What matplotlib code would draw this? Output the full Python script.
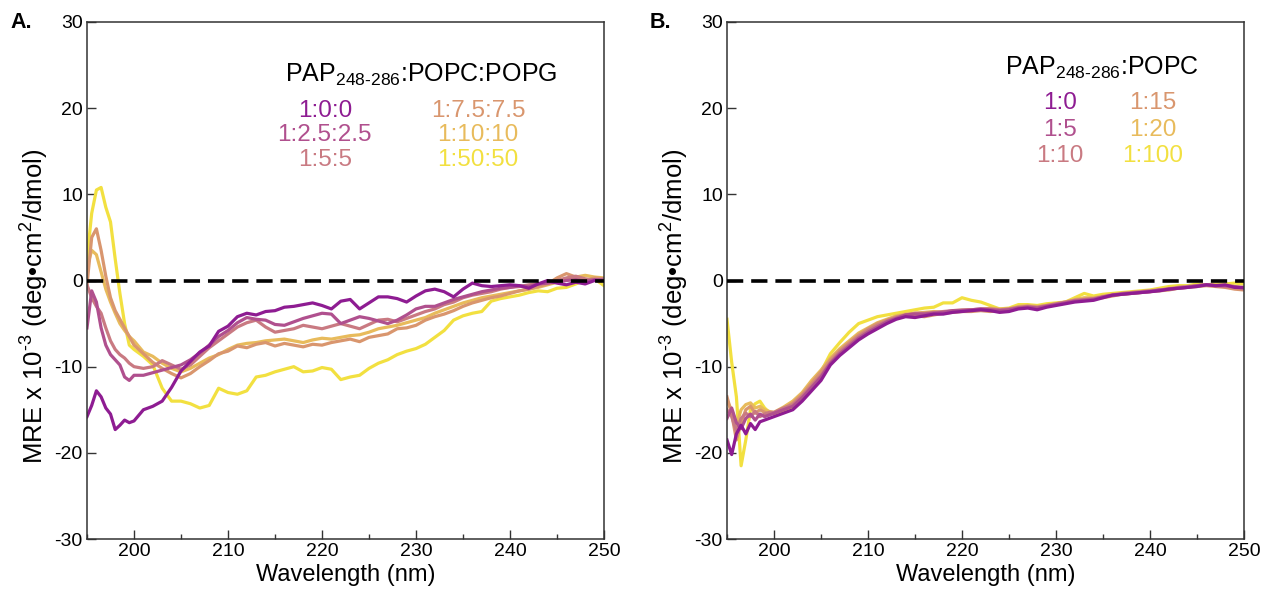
import numpy as np
import matplotlib
matplotlib.use("Agg")
import matplotlib.pyplot as plt
from matplotlib.ticker import MultipleLocator

plt.rcParams["font.family"] = ["Liberation Sans", "DejaVu Sans"]
plt.rcParams["mathtext.fontset"] = "custom"
plt.rcParams["mathtext.rm"] = "Liberation Sans"
plt.rcParams["axes.unicode_minus"] = False

# -------------------------------
# Data
# -------------------------------
wavelength = np.concatenate([np.arange(195, 200, 0.5), np.arange(200, 251, 1)])

colors = ["#8e1c92", "#b0508e", "#c97a82", "#d9966e", "#e8bb5c", "#f2e040"]

# Panel A: PAP248-286:POPC:POPG
labels_a = ["1:0:0", "1:2.5:2.5", "1:5:5", "1:7.5:7.5", "1:10:10", "1:50:50"]
a_0 = [-15.8, -14.5, -12.8, -13.5, -14.8, -15.5, -17.3, -16.8, -16.2, -16.5,
       -16.3, -15.0, -14.6, -14.0, -12.4, -10.5, -9.4, -8.3, -7.6, -5.9, -5.3, -4.2, -3.8, -4.0, -3.6, -3.5,
       -3.1, -3.0, -2.8, -2.6, -2.9, -3.3, -2.4, -2.2, -3.3, -2.6, -1.9, -1.9, -2.1, -2.5, -1.8, -1.2, -1.0,
       -1.3, -1.9, -1.0, -0.3, -0.6, -0.7, -0.6, -0.5, -0.6, -0.9, -0.4, 0.0, -0.3, -0.5, -0.2, -0.4, 0.0, 0.0]
a_1 = [-5.5, -1.2, -2.5, -5.5, -7.5, -8.6, -9.2, -9.8, -11.2, -11.6,
       -11.0, -11.0, -10.7, -10.4, -10.1, -9.8, -9.2, -8.4, -7.5, -6.5, -5.8, -4.9, -4.3, -4.5, -4.6, -5.1,
       -5.2, -4.8, -4.4, -4.1, -3.8, -3.9, -5.0, -4.6, -4.2, -4.4, -4.7, -5.0, -4.6, -4.0, -3.3, -3.0, -3.0,
       -2.6, -2.2, -1.9, -1.6, -1.3, -1.1, -0.9, -0.8, -0.6, -0.7, -0.4, -0.3, -0.2, 0.0, 0.1, -0.1, 0.1, 0.0]
a_2 = [-0.5, -2.0, -3.0, -3.8, -5.5, -7.0, -8.0, -8.6, -9.0, -9.6,
       -10.0, -10.2, -10.0, -9.3, -9.8, -10.3, -9.8, -8.8, -7.8, -7.0, -6.2, -5.4, -4.9, -4.6, -5.4, -6.0,
       -5.8, -5.6, -5.2, -5.4, -5.6, -5.3, -5.0, -5.3, -5.6, -5.1, -4.6, -4.5, -4.8, -4.4, -4.0, -3.6, -3.3,
       -2.8, -2.5, -2.0, -1.7, -1.5, -1.3, -1.0, -0.8, -0.7, -0.5, -0.4, -0.2, 0.0, 0.3, 0.5, 0.2, 0.0, 0.2]
a_3 = [-0.5, 5.0, 6.0, 3.5, 0.5, -2.0, -3.5, -4.5, -5.5, -6.5,
       -7.5, -8.5, -9.5, -10.2, -10.8, -11.3, -10.8, -10.0, -9.3, -8.5, -8.2, -7.6, -7.8, -7.4, -7.2, -7.6,
       -7.3, -7.5, -7.7, -7.4, -7.5, -7.2, -7.0, -6.8, -7.1, -6.6, -6.4, -6.2, -5.6, -5.5, -5.2, -4.6, -4.2,
       -3.9, -3.5, -3.0, -2.6, -2.3, -2.0, -1.8, -1.5, -1.2, -1.0, -0.7, -0.4, 0.3, 0.8, 0.4, 0.0, 0.3, 0.2]
a_4 = [1.5, 3.5, 3.0, 1.0, -1.0, -2.5, -3.8, -5.0, -5.8, -6.5,
       -7.0, -8.3, -8.8, -9.6, -10.2, -10.6, -10.2, -9.6, -9.0, -8.6, -8.0, -7.5, -7.3, -7.2, -7.0, -6.9,
       -6.8, -7.0, -7.2, -6.9, -6.7, -6.8, -6.6, -6.4, -6.3, -6.0, -5.6, -5.4, -5.2, -4.9, -4.6, -4.3, -3.8,
       -3.4, -3.0, -2.6, -2.3, -2.0, -1.8, -1.6, -1.4, -1.2, -1.0, -0.8, -0.5, -0.2, 0.1, 0.4, 0.6, 0.4, 0.3]
a_5 = [2.5, 7.8, 10.5, 10.8, 8.5, 6.8, 2.5, -1.5, -5.0, -7.5,
       -8.0, -8.8, -9.8, -12.5, -14.0, -14.0, -14.3, -14.8, -14.5, -12.5, -13.0, -13.2, -12.8, -11.2, -11.0,
       -10.6, -10.3, -10.0, -10.6, -10.5, -10.1, -10.3, -11.5, -11.2, -11.0, -10.2, -9.6, -9.2, -8.6, -8.2,
       -7.9, -7.4, -6.6, -5.8, -4.6, -4.1, -3.8, -3.6, -2.4, -2.1, -1.9, -1.7, -1.4, -1.2, -1.3, -0.9, -0.8,
       -0.4, 0.1, 0.2, -0.6]

# Panel B: PAP248-286:POPC
labels_b = ["1:0", "1:5", "1:10", "1:15", "1:20", "1:100"]
b_0 = [-18.5, -20.2, -17.8, -16.8, -17.8, -16.6, -17.3, -16.4, -16.2, -16.0,
       -15.8, -15.4, -15.0, -14.0, -12.8, -11.6, -9.8, -8.7, -7.8, -6.9, -6.2, -5.6, -5.0, -4.5, -4.2, -4.3,
       -4.1, -3.9, -3.9, -3.7, -3.6, -3.5, -3.4, -3.5, -3.7, -3.6, -3.3, -3.2, -3.4, -3.1, -2.9, -2.7, -2.5,
       -2.4, -2.3, -2.0, -1.7, -1.6, -1.5, -1.4, -1.3, -1.2, -1.0, -0.9, -0.8, -0.7, -0.5, -0.6, -0.5, -0.8, -0.8]
b_1 = [-16.0, -14.8, -16.5, -17.2, -16.0, -15.5, -16.2, -15.5, -15.8, -15.6,
       -15.4, -15.0, -14.6, -13.6, -12.4, -11.2, -9.6, -8.5, -7.6, -6.7, -6.0, -5.4, -4.8, -4.4, -4.0, -3.9,
       -3.9, -3.8, -3.7, -3.5, -3.5, -3.4, -3.3, -3.4, -3.5, -3.4, -3.2, -3.1, -3.2, -3.0, -2.8, -2.6, -2.4,
       -2.3, -2.2, -1.9, -1.7, -1.6, -1.5, -1.4, -1.3, -1.1, -1.0, -0.9, -0.8, -0.6, -0.5, -0.6, -0.6, -0.7, -0.9]
b_2 = [-15.0, -15.8, -17.5, -16.0, -15.4, -15.8, -15.2, -15.8, -15.5, -15.3,
       -15.3, -14.8, -14.4, -13.4, -12.2, -11.0, -9.5, -8.3, -7.4, -6.5, -5.8, -5.2, -4.7, -4.3, -4.0, -3.8,
       -3.8, -3.7, -3.6, -3.5, -3.4, -3.4, -3.3, -3.3, -3.4, -3.3, -3.1, -3.0, -3.1, -2.9, -2.7, -2.5, -2.3,
       -2.2, -2.1, -1.9, -1.7, -1.5, -1.4, -1.3, -1.2, -1.1, -1.0, -0.8, -0.7, -0.6, -0.5, -0.6, -0.7, -0.8, -1.0]
b_3 = [-13.5, -15.5, -18.5, -16.5, -15.0, -14.6, -15.4, -15.0, -15.3, -15.5,
       -15.4, -14.9, -14.2, -13.2, -11.9, -10.6, -9.2, -8.1, -7.2, -6.3, -5.6, -5.0, -4.6, -4.2, -4.0, -4.1,
       -4.2, -4.0, -3.8, -3.7, -3.6, -3.6, -3.5, -3.6, -3.5, -3.4, -3.2, -3.1, -3.2, -3.0, -2.8, -2.6, -2.3,
       -2.2, -2.1, -2.0, -1.8, -1.6, -1.5, -1.4, -1.3, -1.2, -1.1, -0.9, -0.8, -0.7, -0.6, -0.7, -0.8, -1.0, -1.1]
b_4 = [-14.0, -15.0, -16.8, -15.0, -14.4, -14.2, -14.8, -14.6, -15.0, -15.2,
       -15.3, -14.7, -14.0, -13.0, -11.6, -10.4, -9.0, -7.9, -7.0, -6.1, -5.5, -4.9, -4.5, -4.1, -3.9, -3.8,
       -3.7, -3.6, -3.7, -3.6, -3.5, -3.4, -3.4, -3.2, -3.3, -3.3, -3.0, -2.9, -3.0, -2.9, -2.7, -2.5, -2.2,
       -2.0, -2.0, -1.8, -1.6, -1.5, -1.4, -1.3, -1.2, -1.1, -0.9, -0.8, -0.7, -0.6, -0.5, -0.5, -0.6, -0.7, -0.8]
b_5 = [-4.5, -9.5, -13.5, -21.5, -18.5, -15.0, -14.3, -14.0, -14.8, -15.3,
       -15.5, -15.3, -14.6, -13.5, -12.0, -10.6, -8.5, -7.2, -6.0, -5.0, -4.6, -4.2, -4.0, -3.8, -3.6, -3.4,
       -3.2, -3.1, -2.6, -2.6, -2.0, -2.3, -2.5, -2.9, -3.3, -3.2, -2.8, -2.8, -2.9, -2.7, -2.6, -2.5, -2.0,
       -1.5, -1.8, -1.6, -1.5, -1.4, -1.3, -1.2, -1.1, -0.9, -0.7, -0.6, -0.6, -0.4, -0.5, -0.4, -0.4, -0.3, -0.4]

series_a = [a_0, a_1, a_2, a_3, a_4, a_5]
series_b = [b_0, b_1, b_2, b_3, b_4, b_5]

# -------------------------------
# Figure
# -------------------------------
fig = plt.figure(figsize=(12.62, 5.94), dpi=100)
ax_a = fig.add_axes([87 / 1262, 1 - 539 / 594, 517 / 1262, 517 / 594])
ax_b = fig.add_axes([727 / 1262, 1 - 539 / 594, 517 / 1262, 517 / 594])


def style_axis(ax):
    ax.set_xlim(195, 250)
    ax.set_ylim(-30, 30)
    ax.xaxis.set_major_locator(MultipleLocator(10))
    ax.xaxis.set_minor_locator(MultipleLocator(5))
    ax.yaxis.set_major_locator(MultipleLocator(10))
    ax.tick_params(which="both", direction="in", labelsize=14, width=1, color="#333333", pad=3)
    ax.tick_params(which="major", length=6.5)
    ax.tick_params(which="minor", length=3.5)
    for s in ax.spines.values():
        s.set_color("#333333")
        s.set_linewidth(1.1)
    ax.axhline(0, color="black", lw=2.6, ls=(0, (4.5, 2.2)), zorder=3)
    ax.set_xlabel("Wavelength (nm)", fontsize=17, labelpad=3)
    ax.set_ylabel(r"MRE x 10$^{\text{-3}}$ (deg•cm$^{\mathregular{2}}$/dmol)", fontsize=18.5)
    ax.yaxis.set_label_coords(-0.072, 0.45)


# draw lightest first so purple sits on top like the original
for ys, c in reversed(list(zip(series_a, colors))):
    ax_a.plot(wavelength, ys, color=c, lw=2.3, zorder=2)
for ys, c in reversed(list(zip(series_b, colors))):
    ax_b.plot(wavelength, ys, color=c, lw=2.3, zorder=2)

style_axis(ax_a)
style_axis(ax_b)

# legend-like text blocks
ax_a.text(216.1, 23.9, r"PAP$_{\mathregular{248\text{-}286}}$:POPC:POPG", fontsize=18, va="center", ha="left")
cols_a = [220.3, 236.6]
rows_a = [19.7, 16.9, 14.0]
for i, lab in enumerate(labels_a):
    ax_a.text(cols_a[i // 3], rows_a[i % 3], lab, color=colors[i], fontsize=17.5, ha="center", va="center")

ax_b.text(224.6, 24.7, r"PAP$_{\mathregular{248\text{-}286}}$:POPC", fontsize=18, va="center", ha="left")
cols_b = [230.4, 240.3]
rows_b = [20.6, 17.5, 14.4]
for i, lab in enumerate(labels_b):
    ax_b.text(cols_b[i // 3], rows_b[i % 3], lab, color=colors[i], fontsize=17.5, ha="center", va="center")

fig.text(10 / 1262, 1 - 22 / 594, "A.", fontsize=15.5, fontweight="bold", va="center")
fig.text(650 / 1262, 1 - 22 / 594, "B.", fontsize=15.5, fontweight="bold", va="center")

fig.savefig("out.png", dpi=100)
